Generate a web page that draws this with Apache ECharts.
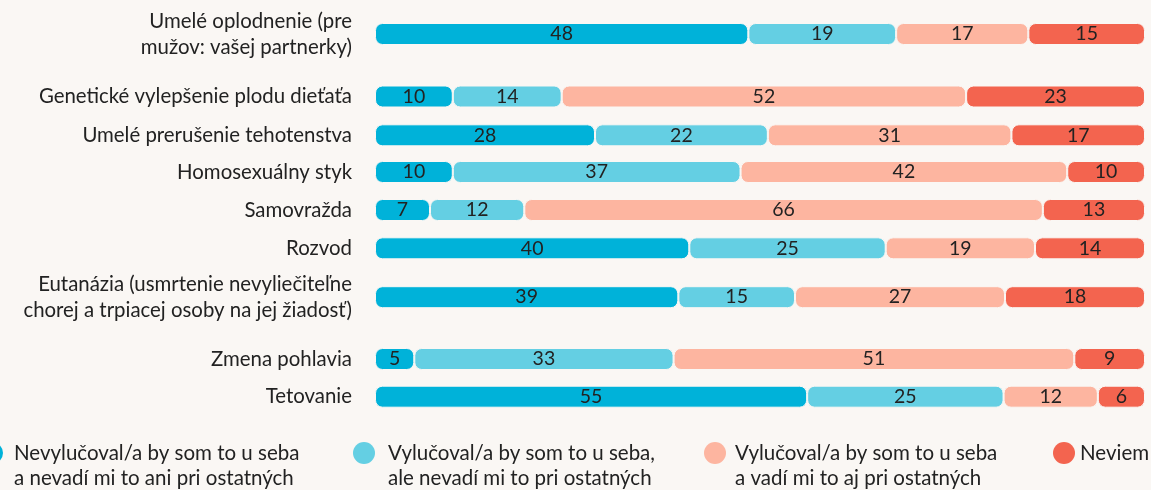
<!DOCTYPE html>
<html>
<head>
<meta charset="utf-8">
<script src="https://cdn.jsdelivr.net/npm/echarts@6/dist/echarts.min.js"></script>
<style>
  html, body { margin: 0; padding: 0; background: #faf7f4; }
  #chart { width: 1151px; height: 490px; }
</style>
</head>
<body>
<div id="chart"></div>
<script>
// Postoje k jednotlivým témam (v %)
const categories = [
  'Umelé oplodnenie (pre\nmužov: vašej partnerky)',
  'Genetické vylepšenie plodu dieťaťa',
  'Umelé prerušenie tehotenstva',
  'Homosexuálny styk',
  'Samovražda',
  'Rozvod',
  'Eutanázia (usmrtenie nevyliečiteľne\nchorej a trpiacej osoby na jej žiadosť)',
  'Zmena pohlavia',
  'Tetovanie'
];
const seriesNames = [
  'Nevylučoval/a by som to u seba\na nevadí mi to ani pri ostatných',
  'Vylučoval/a by som to u seba,\nale nevadí mi to pri ostatných',
  'Vylučoval/a by som to u seba\na vadí mi to aj pri ostatných',
  'Neviem'
];
const nevylucoval      = [48, 10, 28, 10,  7, 40, 39,  5, 55];
const vylucovalNevadi  = [19, 14, 22, 37, 12, 25, 15, 33, 25];
const vylucovalVadi    = [17, 52, 31, 42, 66, 19, 27, 51, 12];
const neviem           = [15, 23, 17, 10, 13, 14, 18,  9,  6];

const values = [nevylucoval, vylucovalNevadi, vylucovalVadi, neviem];
const colors = ['#00b2d9', '#64cfe3', '#fdb5a0', '#f3644f'];
const bg = '#faf7f4';
const font = 'Lato';

// vertical centre of each row (rows with two-line labels get extra room)
const rowCenters = [34, 96.5, 135.3, 172, 210, 248.3, 297.2, 359, 396.7];
const barLeft = 375, barRight = 6, rowH = 22;

const grid = [], xAxis = [], yAxis = [], series = [];
categories.forEach((cat, i) => {
  const total = values.reduce((s, arr) => s + arr[i], 0);
  grid.push({ left: barLeft, right: barRight, top: rowCenters[i] - rowH / 2, height: rowH });
  xAxis.push({ type: 'value', gridIndex: i, min: 0, max: total, show: false });
  yAxis.push({
    type: 'category', gridIndex: i, data: [cat],
    axisLine: { show: false }, axisTick: { show: false }, splitLine: { show: false },
    axisLabel: { margin: 23, color: '#222', fontSize: 20.4, lineHeight: 26, fontFamily: font, align: 'right' }
  });
  values.forEach((arr, k) => {
    series.push({
      type: 'bar', name: seriesNames[k], stack: 'row' + i,
      xAxisIndex: i, yAxisIndex: i,
      data: [arr[i]], barWidth: rowH,
      itemStyle: { color: colors[k], borderRadius: 7, borderColor: bg, borderWidth: 1 },
      label: { show: true, position: 'inside', color: '#222', fontSize: 19.5, fontFamily: font },
      silent: true
    });
  });
});

// legend: circle marker + two-line caption
const legendX = [-8, 364, 715, 1064];
const legendTextX = [14, 388, 735, 1080];
const graphic = [];
seriesNames.forEach((name, k) => {
  graphic.push({ type: 'circle', shape: { cx: legendX[k], cy: 453, r: 11 }, style: { fill: colors[k] }, silent: true });
  graphic.push({
    type: 'text', left: legendTextX[k], top: 441,
    style: { text: name, fill: '#222', font: '20.5px ' + font, lineHeight: 25 }, silent: true
  });
});

const chart = echarts.init(document.getElementById('chart'));
chart.setOption({
  backgroundColor: bg,
  animation: false,
  grid, xAxis, yAxis, series, graphic
});
</script>
</body>
</html>
